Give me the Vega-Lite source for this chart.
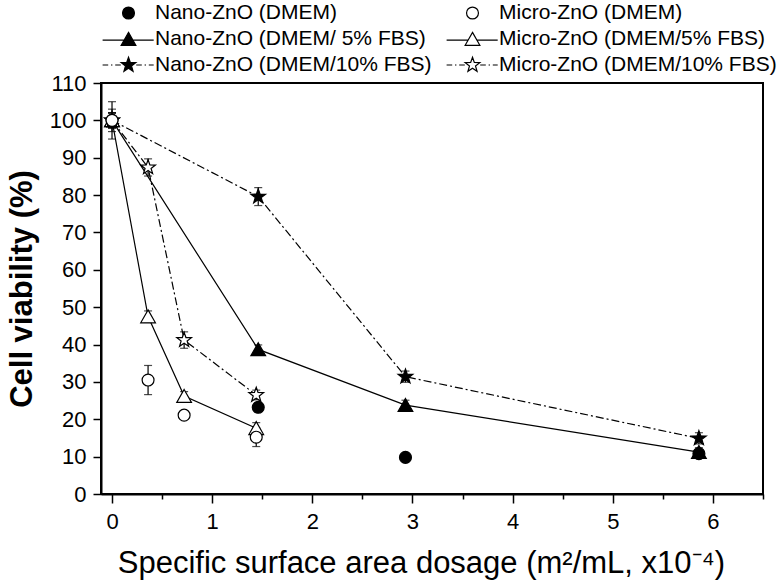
{
  "$schema": "https://vega.github.io/schema/vega-lite/v6.json",
  "width": 662,
  "height": 411,
  "autosize": {"type": "none"},
  "padding": {"left": 101, "top": 83, "right": 14, "bottom": 93},
  "background": "white",
  "config": {
    "view": {"stroke": "black", "strokeWidth": 2},
    "axis": {
      "grid": false,
      "domainColor": "black",
      "domainWidth": 2,
      "tickColor": "black",
      "tickWidth": 1.5,
      "labelColor": "black",
      "labelFont": "Liberation Sans",
      "labelFontSize": 22,
      "titleFont": "Liberation Sans",
      "titleColor": "black",
      "labelFlush": false
    },
    "legend": {
      "orient": "none",
      "title": null,
      "padding": 0,
      "columns": 1,
      "symbolSize": 196,
      "symbolStrokeWidth": 1.2,
      "symbolOpacity": 1,
      "labelFont": "Liberation Sans",
      "labelFontSize": 21,
      "labelColor": "black",
      "labelLimit": 600,
      "labelOffset": 16,
      "rowPadding": 4
    }
  },
  "data": {
    "values": [
      {"series": "Nano-ZnO (DMEM/ 5% FBS)", "x": 0, "y": 100, "err": 2},
      {"series": "Nano-ZnO (DMEM/10% FBS)", "x": 0, "y": 100, "err": 2},
      {"series": "Micro-ZnO (DMEM/5% FBS)", "x": 0, "y": 100, "err": 2},
      {"series": "Micro-ZnO (DMEM/10% FBS)", "x": 0, "y": 100, "err": 2},
      {"series": "Nano-ZnO (DMEM)", "x": 0, "y": 100, "err": 3},
      {"series": "Micro-ZnO (DMEM)", "x": 0, "y": 100, "err": 5},
      {"series": "Micro-ZnO (DMEM/10% FBS)", "x": 0.36, "y": 87.4, "err": 2.3},
      {"series": "Micro-ZnO (DMEM/5% FBS)", "x": 0.36, "y": 47.5, "err": 1.5},
      {"series": "Micro-ZnO (DMEM)", "x": 0.36, "y": 30.5, "err": 3.9},
      {"series": "Micro-ZnO (DMEM/10% FBS)", "x": 0.72, "y": 41.2, "err": 2.2},
      {"series": "Micro-ZnO (DMEM/5% FBS)", "x": 0.72, "y": 26.2, "err": 1.2},
      {"series": "Micro-ZnO (DMEM)", "x": 0.72, "y": 21.1, "err": 1.0},
      {"series": "Nano-ZnO (DMEM/10% FBS)", "x": 1.46, "y": 79.6, "err": 2.4},
      {"series": "Nano-ZnO (DMEM/ 5% FBS)", "x": 1.46, "y": 38.7, "err": 1.2},
      {"series": "Micro-ZnO (DMEM/10% FBS)", "x": 1.44, "y": 26.5, "err": 1.3},
      {"series": "Nano-ZnO (DMEM)", "x": 1.46, "y": 23.2, "err": 1.0},
      {"series": "Micro-ZnO (DMEM/5% FBS)", "x": 1.44, "y": 17.6, "err": 1.5},
      {"series": "Micro-ZnO (DMEM)", "x": 1.44, "y": 15.2, "err": 2.5},
      {"series": "Nano-ZnO (DMEM/10% FBS)", "x": 2.93, "y": 31.4, "err": 1.5},
      {"series": "Nano-ZnO (DMEM/ 5% FBS)", "x": 2.93, "y": 23.8, "err": 1.3},
      {"series": "Nano-ZnO (DMEM)", "x": 2.93, "y": 9.8, "err": 0.5},
      {"series": "Nano-ZnO (DMEM/10% FBS)", "x": 5.86, "y": 14.9, "err": 1.5},
      {"series": "Nano-ZnO (DMEM)", "x": 5.86, "y": 10.8, "err": 1.0},
      {"series": "Nano-ZnO (DMEM/ 5% FBS)", "x": 5.86, "y": 11.2, "err": 1.2}
    ]
  },
  "encoding": {
    "x": {
      "field": "x", "type": "quantitative",
      "scale": {"domain": [-0.11, 6.5], "nice": false, "zero": false},
      "axis": {
        "orient": "bottom",
        "values": [0, 0.5, 1, 1.5, 2, 2.5, 3, 3.5, 4, 4.5, 5, 5.5, 6, 6.5],
        "labelExpr": "datum.value % 1 === 0 ? format(datum.value, 'd') : ''",
        "tickSize": {"condition": {"test": "datum.value % 1 === 0", "value": 9}, "value": 5},
        "labelFont": "Liberation Sans",
        "labelFontSize": 22,
        "labelPadding": 8,
        "title": "Specific surface area dosage (m²/mL, x10⁻⁴)",
        "titleFontSize": 31,
        "titleFontWeight": "normal",
        "titlePadding": 16,
        "titleX": 320
      }
    },
    "y": {
      "field": "y", "type": "quantitative",
      "scale": {"domain": [0, 110], "nice": false},
      "axis": {
        "values": [0, 10, 20, 30, 40, 50, 60, 70, 80, 90, 100, 110],
        "tickSize": 8,
        "labelFont": "Liberation Sans",
        "labelFontSize": 22,
        "labelPadding": 7,
        "title": "Cell viability (%)",
        "titleFontSize": 31,
        "titleFontWeight": "bold",
        "titlePadding": 11
      }
    }
  },
  "resolve": {"scale": {"shape": "independent", "fill": "independent"}},
  "layer": [
    {
      "transform": [{"filter": "indexof(datum.series, '5%') >= 0"}],
      "mark": {"type": "line", "color": "black", "strokeWidth": 1.2},
      "encoding": {"detail": {"field": "series", "type": "nominal"}}
    },
    {
      "transform": [{"filter": "indexof(datum.series, '10%') >= 0"}],
      "mark": {"type": "line", "color": "black", "strokeWidth": 1.2, "strokeDash": [8, 3, 2, 3]},
      "encoding": {"detail": {"field": "series", "type": "nominal"}}
    },
    {
      "mark": {"type": "errorbar", "color": "black", "ticks": {"size": 8, "thickness": 1.2}, "rule": {"strokeWidth": 1.2}},
      "encoding": {"yError": {"field": "err"}}
    },
    {
      "mark": {"type": "point", "filled": true, "size": 196, "stroke": "black", "strokeWidth": 1.2, "opacity": 1},
      "encoding": {
        "shape": {
          "field": "series", "type": "nominal",
          "scale": {
            "domain": ["Nano-ZnO (DMEM)", "Micro-ZnO (DMEM)", "Nano-ZnO (DMEM/ 5% FBS)", "Micro-ZnO (DMEM/5% FBS)", "Nano-ZnO (DMEM/10% FBS)", "Micro-ZnO (DMEM/10% FBS)"],
            "range": [
              "M0.85,0A0.85,0.85,0,1,1,-0.85,0A0.85,0.85,0,1,1,0.85,0Z",
              "M0.85,0A0.85,0.85,0,1,1,-0.85,0A0.85,0.85,0,1,1,0.85,0Z",
              "M0,-0.95L1.05,0.9L-1.05,0.9Z",
              "M0,-0.95L1.05,0.9L-1.05,0.9Z",
              "M0,-1.1L0.26,-0.36L1.05,-0.34L0.43,0.14L0.65,0.89L0,0.45L-0.65,0.89L-0.43,0.14L-1.05,-0.34L-0.26,-0.36Z",
              "M0,-1.1L0.26,-0.36L1.05,-0.34L0.43,0.14L0.65,0.89L0,0.45L-0.65,0.89L-0.43,0.14L-1.05,-0.34L-0.26,-0.36Z"
            ]
          },
          "legend": null
        },
        "fill": {
          "field": "series", "type": "nominal",
          "scale": {
            "domain": ["Nano-ZnO (DMEM)", "Micro-ZnO (DMEM)", "Nano-ZnO (DMEM/ 5% FBS)", "Micro-ZnO (DMEM/5% FBS)", "Nano-ZnO (DMEM/10% FBS)", "Micro-ZnO (DMEM/10% FBS)"],
            "range": ["black", "white", "black", "white", "black", "white"]
          },
          "legend": null
        }
      }
    },
    {
      "transform": [{"filter": "datum.y > 1000"}],
      "mark": {"type": "point", "filled": true, "fill": "black", "stroke": "black", "strokeWidth": 1.2, "size": 196, "opacity": 1},
      "encoding": {
        "shape": {
          "field": "series", "type": "nominal",
          "scale": {
            "domain": ["Nano-ZnO (DMEM)", "Nano-ZnO (DMEM/ 5% FBS)", "Nano-ZnO (DMEM/10% FBS)"],
            "range": [
              "M0.85,0A0.85,0.85,0,1,1,-0.85,0A0.85,0.85,0,1,1,0.85,0Z",
              "M-3.7,0.15H-0.62M0.62,0.15H3.6M0,-0.95L1.05,0.9L-1.05,0.9Z",
              "M-3.7,0H-2.9M-2.5,0H-2.3M-1.9,0H-1.1M1.1,0H1.9M2.3,0H2.5M2.9,0H3.6M0,-1.1L0.26,-0.36L1.05,-0.34L0.43,0.14L0.65,0.89L0,0.45L-0.65,0.89L-0.43,0.14L-1.05,-0.34L-0.26,-0.36Z"
            ]
          },
          "legend": {
            "legendX": 17, "legendY": -80.5,
            "encode": {"symbols": {"stroke": {"value": "black"}, "fill": {"value": "black"}, "strokeWidth": {"value": 1.2}}}
          }
        }
      }
    },
    {
      "transform": [{"filter": "datum.y > 1000"}],
      "mark": {"type": "point", "filled": true, "fill": "white", "stroke": "black", "strokeWidth": 1.2, "size": 196, "opacity": 1},
      "encoding": {
        "shape": {
          "field": "series", "type": "nominal",
          "scale": {
            "domain": ["Micro-ZnO (DMEM)", "Micro-ZnO (DMEM/5% FBS)", "Micro-ZnO (DMEM/10% FBS)"],
            "range": [
              "M0.85,0A0.85,0.85,0,1,1,-0.85,0A0.85,0.85,0,1,1,0.85,0Z",
              "M-3.7,0.15H-0.62M0.62,0.15H3.6M0,-0.95L1.05,0.9L-1.05,0.9Z",
              "M-3.7,0H-2.9M-2.5,0H-2.3M-1.9,0H-1.1M1.1,0H1.9M2.3,0H2.5M2.9,0H3.6M0,-1.1L0.26,-0.36L1.05,-0.34L0.43,0.14L0.65,0.89L0,0.45L-0.65,0.89L-0.43,0.14L-1.05,-0.34L-0.26,-0.36Z"
            ]
          },
          "legend": {
            "legendX": 361, "legendY": -80.5,
            "encode": {"symbols": {"stroke": {"value": "black"}, "fill": {"value": "white"}, "strokeWidth": {"value": 1.2}}}
          }
        }
      }
    }
  ]
}
